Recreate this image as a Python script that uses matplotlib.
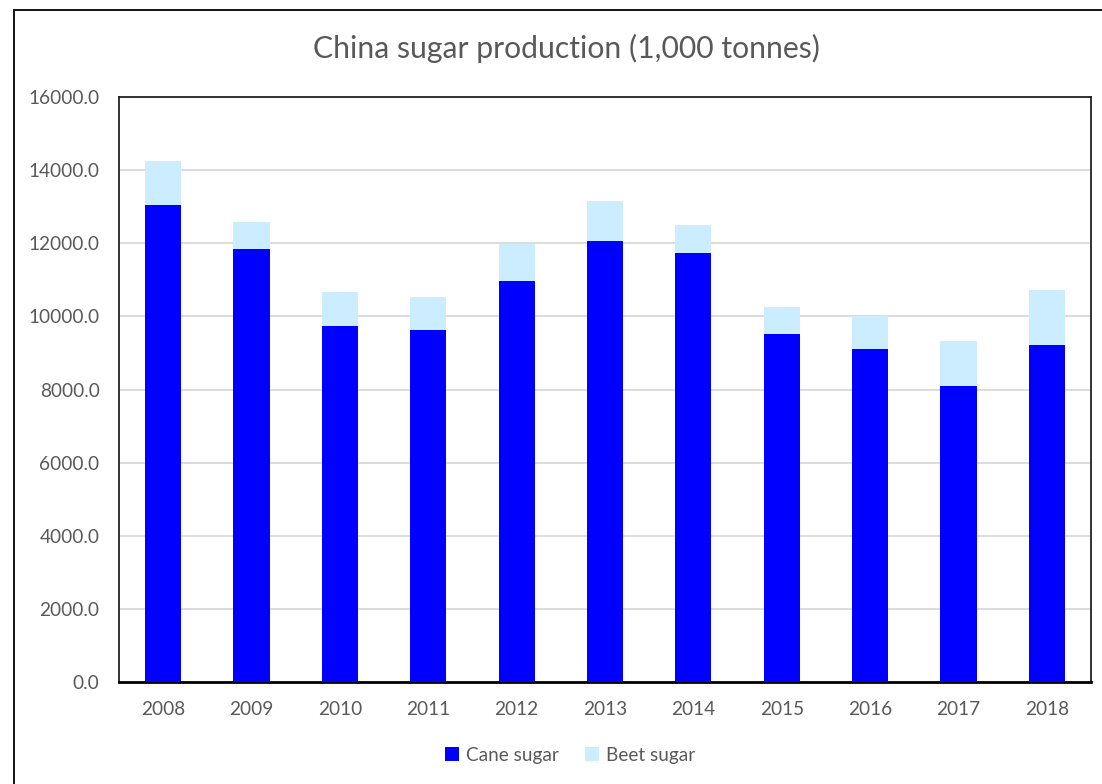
import matplotlib
matplotlib.use("Agg")
import matplotlib.pyplot as plt
from matplotlib.patches import Rectangle
import numpy as np

years = ["2008", "2009", "2010", "2011", "2012", "2013", "2014", "2015", "2016", "2017", "2018"]
cane = [13040, 11840, 9730, 9620, 10960, 12060, 11740, 9510, 9100, 8100, 9210]
beet = [1210, 730, 950, 920, 1010, 1090, 750, 760, 910, 1220, 1520]
yticks = [0, 2000, 4000, 6000, 8000, 10000, 12000, 14000, 16000]

plt.rcParams['font.family'] = ['Lato', 'DejaVu Sans']
txt = '#595959'

fig = plt.figure(figsize=(11.02, 7.84), dpi=100)
fig.patch.set_facecolor('white')
# outer chart border (extends past right/bottom edges)
fig.patches.append(Rectangle((14/1102, -0.1), 1.2, 1 - 10/784 + 0.1, transform=fig.transFigure,
                             fill=False, edgecolor='#000000', linewidth=1.3, zorder=0))

ax = fig.add_axes([119/1102, 1 - 682/784, (1091 - 119)/1102, (682 - 97)/784])
x = np.arange(len(years))
w = 0.41
ax.bar(x, cane, w, color='#0000FF', label='Cane sugar', zorder=3)
ax.bar(x, beet, w, bottom=cane, color='#CCECFF', label='Beet sugar', zorder=3)

ax.set_xlim(-0.5, len(years) - 0.5)
ax.set_ylim(0, 16000)
ax.set_yticks(yticks)
ax.set_yticklabels([f"{v:.1f}" for v in yticks])
ax.set_xticks(x)
ax.set_xticklabels(years)
ax.tick_params(axis='both', length=0, labelsize=13.7, colors=txt)
ax.tick_params(axis='y', pad=14)
ax.tick_params(axis='x', pad=14)
ax.yaxis.grid(True, color='#D9D9D9', linewidth=1.3, zorder=0)
ax.set_axisbelow(True)
for s in ['left', 'top', 'right']:
    ax.spines[s].set_color('#222222')
    ax.spines[s].set_linewidth(1.3)
ax.spines['bottom'].set_color('#000000')
ax.spines['bottom'].set_linewidth(2)

fig.text(566/1102, 1 - 48/784, 'China sugar production (1,000 tonnes)', ha='center', va='center',
         fontsize=21.7, color=txt)

handles, labels = ax.get_legend_handles_labels()
fig.legend(handles, labels, loc='center', bbox_to_anchor=(570/1102, 1 - 755/784), ncol=2, frameon=False,
           fontsize=13.7, handlelength=0.75, handleheight=0.75, handletextpad=0.35,
           columnspacing=1.4, labelcolor=txt)

fig.savefig('out.png', dpi=100)
